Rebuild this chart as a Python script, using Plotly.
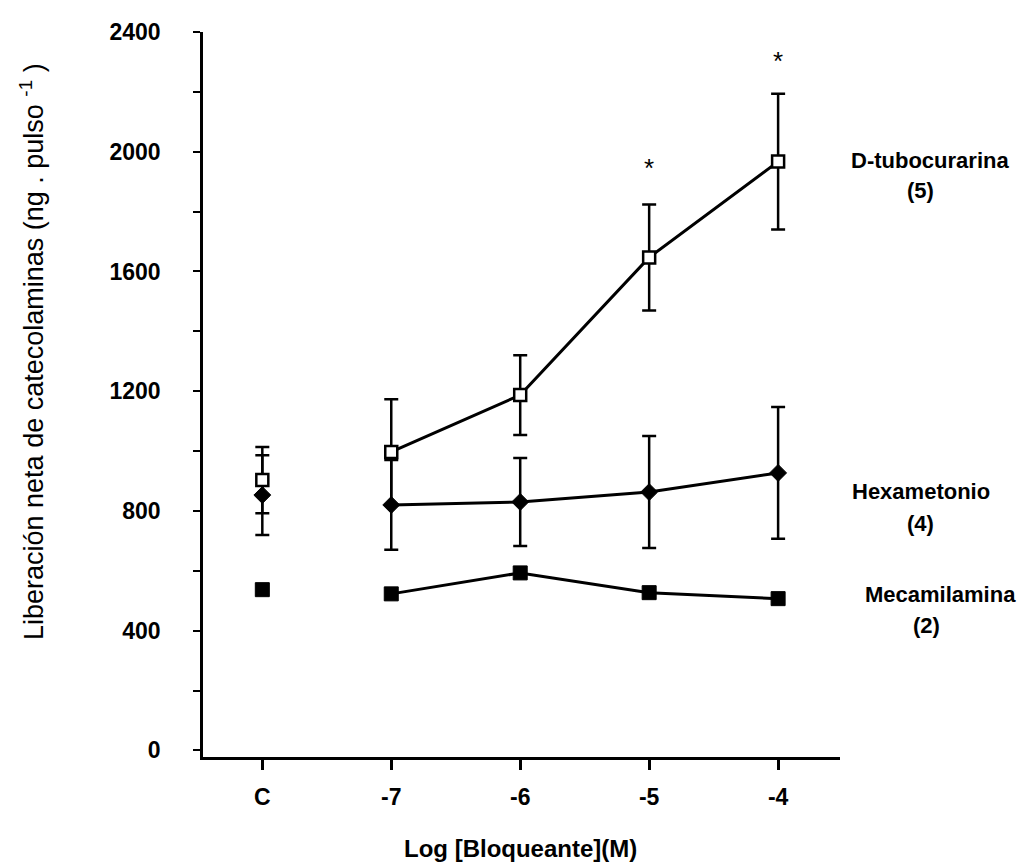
import plotly.graph_objects as go

x_pos = [0, 1, 2, 3, 4]
x_labels = ["C", "-7", "-6", "-5", "-4"]

tubo_vals = [903, 997, 1187, 1647, 1967]
tubo_err = [111, 176, 133, 177, 227]
hexa_vals = [853, 820, 830, 863, 927]
hexa_err = [133, 150, 147, 187, 220]
meca_vals = [537, 523, 593, 527, 507]
star_x = [3, 4]
star_y = [1947, 2303]

font_main = "Liberation Sans, Arial, sans-serif"

W, H = 1029, 867
ml, mr, mt, mb = 203, 189, 32, 110
pw, ph = W - ml - mr, H - mt - mb

def px_to_paper(px, py):
    return (px - ml) / pw, (H - mb - py) / ph

fig = go.Figure()

def add_series(vals, err, marker):
    eb0 = dict(type="data", array=err[:1], color="black", thickness=2.5, width=7) if err else dict(visible=False)
    eb1 = dict(type="data", array=err[1:], color="black", thickness=2.5, width=7) if err else dict(visible=False)
    fig.add_trace(go.Scatter(
        x=x_pos[:1], y=vals[:1], mode="markers", marker=marker,
        error_y=eb0, showlegend=False, cliponaxis=False))
    fig.add_trace(go.Scatter(
        x=x_pos[1:], y=vals[1:], mode="lines+markers",
        line=dict(color="black", width=3), marker=marker,
        error_y=eb1, showlegend=False, cliponaxis=False))

add_series(hexa_vals, hexa_err, dict(symbol="diamond", size=13, color="black", line=dict(color="black", width=1)))
add_series(tubo_vals, tubo_err, dict(symbol="square", size=12, color="white", line=dict(color="black", width=2.5)))
add_series(meca_vals, None, dict(symbol="square", size=14, color="black", line=dict(color="black", width=1)))

for sx, sy in zip(star_x, star_y):
    fig.add_annotation(x=sx, y=sy, text="*", showarrow=False,
                       font=dict(family=font_main, size=26, color="black"))

labels = [
    ("<b>D-tubocurarina</b>", 930, 160),
    ("<b>(5)</b>", 920, 191),
    ("<b>Hexametonio</b>", 921, 492),
    ("<b>(4)</b>", 920, 523),
    ("<b>Mecamilamina</b>", 940, 594),
    ("<b>(2)</b>", 927, 625),
]
for t, px, py in labels:
    ax, ay = px_to_paper(px, py)
    fig.add_annotation(x=ax, y=ay, xref="paper", yref="paper",
                       text=t, showarrow=False, xanchor="center", yanchor="middle",
                       font=dict(family=font_main, size=22, color="black"))

ax, ay = px_to_paper(32, 352)
fig.add_annotation(x=ax, y=ay, xref="paper", yref="paper", textangle=-90,
                   text="Liberación neta de catecolaminas (ng . pulso <sup>-1</sup> )",
                   showarrow=False, xanchor="center", yanchor="middle",
                   font=dict(family=font_main, size=27, color="black"))
bx, by = px_to_paper(520, 848)
fig.add_annotation(x=bx, y=by, xref="paper", yref="paper",
                   text="<b>Log [Bloqueante](M)</b>",
                   showarrow=False, xanchor="center", yanchor="middle",
                   font=dict(family=font_main, size=24, color="black"))

fig.update_layout(
    width=W, height=H,
    margin=dict(l=ml, r=mr, t=mt, b=mb),
    plot_bgcolor="white", paper_bgcolor="white",
    font=dict(family=font_main, color="black"),
)
fig.update_xaxes(range=[-0.46, 4.48], tickvals=x_pos, ticktext=x_labels,
                 showline=True, linecolor="black", linewidth=2.5,
                 ticks="outside", ticklen=10, tickwidth=2.5, tickcolor="black",
                 showgrid=False, zeroline=False, ticklabelstandoff=8,
                 tickfont=dict(family=font_main, size=23, color="black", weight="bold"))
fig.update_yaxes(range=[-22, 2400], tickvals=[0, 400, 800, 1200, 1600, 2000, 2400],
                 showline=True, linecolor="black", linewidth=2.5,
                 ticks="outside", ticklen=7, tickwidth=2, tickcolor="black",
                 minor=dict(tickvals=[200, 600, 1000, 1400, 1800, 2200], ticks="outside", ticklen=7, tickwidth=2, tickcolor="black"),
                 showgrid=False, zeroline=False, ticklabelstandoff=28,
                 tickfont=dict(family=font_main, size=23, color="black", weight="bold"))

fig.write_html("out.html")
